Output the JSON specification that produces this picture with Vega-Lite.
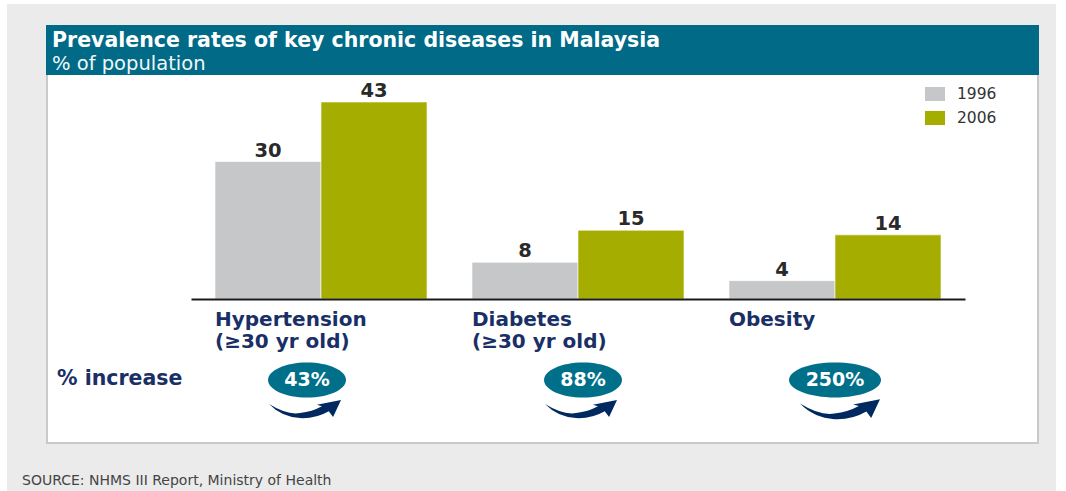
{
"$schema":"https://vega.github.io/schema/vega-lite/v6.json",
"width":774,"height":197,
"autosize":{"type":"none"},
"padding":{"left":191,"top":102,"right":101,"bottom":192},
"background":"#ffffff",
"title":{"text":"Prevalence rates of key chronic diseases in Malaysia","subtitle":"% of population","anchor":"start","frame":"group","dx":-139,"offset":-69,"zindex":1,"font":"DejaVu Sans","fontSize":20.5,"fontWeight":"bold","color":"#ffffff","subtitleFont":"DejaVu Sans","subtitleFontSize":19.5,"subtitleColor":"#f2f7f9","subtitlePadding":3,"subtitleFontWeight":"normal"},
"config":{"view":{"stroke":null},"font":"DejaVu Sans"},
"datasets":{
"bars":[
{"category":"Hypertension (≥30 yr old)","year":"1996","rate":30},
{"category":"Hypertension (≥30 yr old)","year":"2006","rate":43},
{"category":"Diabetes (≥30 yr old)","year":"1996","rate":8},
{"category":"Diabetes (≥30 yr old)","year":"2006","rate":15},
{"category":"Obesity","year":"1996","rate":4},
{"category":"Obesity","year":"2006","rate":14}],
"inc":[
{"category":"Hypertension (≥30 yr old)","increase":"43%"},
{"category":"Diabetes (≥30 yr old)","increase":"88%"},
{"category":"Obesity","increase":"250%"}]
},
"layer":[
{"data":{"values":[{}]},"mark":{"type":"rect","color":"#ebebeb"},"encoding":{"x":{"value":-184},"x2":{"value":865},"y":{"value":-98},"y2":{"value":389}}},
{"data":{"values":[{}]},"mark":{"type":"rect","color":"#ffffff","stroke":"#c9c9c9","strokeWidth":2},"encoding":{"x":{"value":-144},"x2":{"value":847},"y":{"value":-60},"y2":{"value":341}}},
{"data":{"values":[{}]},"mark":{"type":"rect","color":"#006a87"},"encoding":{"x":{"value":-145},"x2":{"value":848},"y":{"value":-77},"y2":{"value":-27}}},
{"data":{"name":"bars"},"mark":{"type":"bar","stroke":"#ffffff","strokeWidth":0.6},
"encoding":{
"x":{"field":"category","type":"nominal","sort":null,"title":null,"scale":{"paddingInner":0.175,"paddingOuter":0.0934},
"axis":{"orient":"bottom","zindex":1,"domainColor":"#1a1a1a","domainWidth":2,"ticks":false,"labelAngle":0,"labelAlign":"left","labelBaseline":"top","labelOffset":-106,"labelPadding":10,"labelFont":"DejaVu Sans","labelFontSize":20,"labelFontWeight":"bold","labelColor":"#1a2f66","labelLineHeight":22,"labelExpr":"split(replace(datum.label,' (','|('),'|')","labelLimit":300}},
"xOffset":{"field":"year","type":"nominal","scale":{"paddingInner":0,"paddingOuter":0}},
"y":{"field":"rate","type":"quantitative","scale":{"domain":[0,43],"nice":false},"axis":null},
"color":{"field":"year","type":"nominal","scale":{"domain":["1996","2006"],"range":["#c6c7c9","#a5ad00"]},
"legend":{"orient":"none","legendX":734,"legendY":-18,"title":null,"symbolType":"M-1,-0.7H1V0.7H-1Z","symbolSize":400,"symbolStrokeWidth":0,"labelFont":"DejaVu Sans","labelFontSize":15.5,"labelColor":"#333333","labelOffset":12,"rowPadding":5}}
}},
{"data":{"name":"bars"},"mark":{"type":"text","font":"DejaVu Sans","fontWeight":"bold","fontSize":19.5,"color":"#2a2a2a","baseline":"bottom","dy":-1},
"encoding":{
"x":{"field":"category","type":"nominal","sort":null},
"xOffset":{"field":"year","type":"nominal"},
"y":{"field":"rate","type":"quantitative"},
"text":{"field":"rate","type":"quantitative"}}},
{"data":{"name":"inc"},"mark":{"type":"point","filled":true,"opacity":1,"color":"#00708a","yOffset":81,
"xOffset":{"expr":"datum.increase=='43%'?-14:datum.increase=='88%'?5:0"},
"shape":{"expr":"datum.increase=='250%'?'M-1,0A1,.38,0,1,1,1,0A1,.38,0,1,1,-1,0Z':'M-1,0A1,.45,0,1,1,1,0A1,.45,0,1,1,-1,0Z'"},
"size":{"expr":"datum.increase=='250%'?8464:6084"}},
"encoding":{"x":{"field":"category","type":"nominal","sort":null},"y":{"value":197}}},
{"data":{"name":"inc"},"mark":{"type":"point","filled":true,"opacity":1,"color":"#002960","yOffset":109,
"xOffset":{"expr":"datum.increase=='43%'?-16:datum.increase=='88%'?3:5"},
"shape":"M-1,-.11Q-.5,.2,-.14,.14Q.2,.1,.47,-.05L.33,-.09L1,-.22L.78,.25L.66,.09Q.3,.3,-.14,.28Q-.65,.25,-1,-.11Z",
"size":{"expr":"datum.increase=='250%'?6400:5184"}},
"encoding":{"x":{"field":"category","type":"nominal","sort":null},"y":{"value":197}}},
{"data":{"name":"inc"},"mark":{"type":"text","font":"DejaVu Sans","fontWeight":"bold","fontSize":19,"color":"#ffffff","yOffset":81,
"xOffset":{"expr":"datum.increase=='43%'?-14:datum.increase=='88%'?5:0"}},
"encoding":{"x":{"field":"category","type":"nominal","sort":null},"y":{"value":197},"text":{"field":"increase"}}},
{"data":{"values":[{"label":"% increase"}]},"mark":{"type":"text","font":"DejaVu Sans","fontWeight":"bold","fontSize":20.5,"color":"#1a2f66","align":"left"},
"encoding":{"x":{"value":-134},"y":{"value":277},"text":{"field":"label"}}},
{"data":{"values":[{"label":"SOURCE: NHMS III Report, Ministry of Health"}]},"mark":{"type":"text","font":"DejaVu Sans","fontSize":14,"color":"#444444","align":"left"},
"encoding":{"x":{"value":-169},"y":{"value":379},"text":{"field":"label"}}}
]
}
